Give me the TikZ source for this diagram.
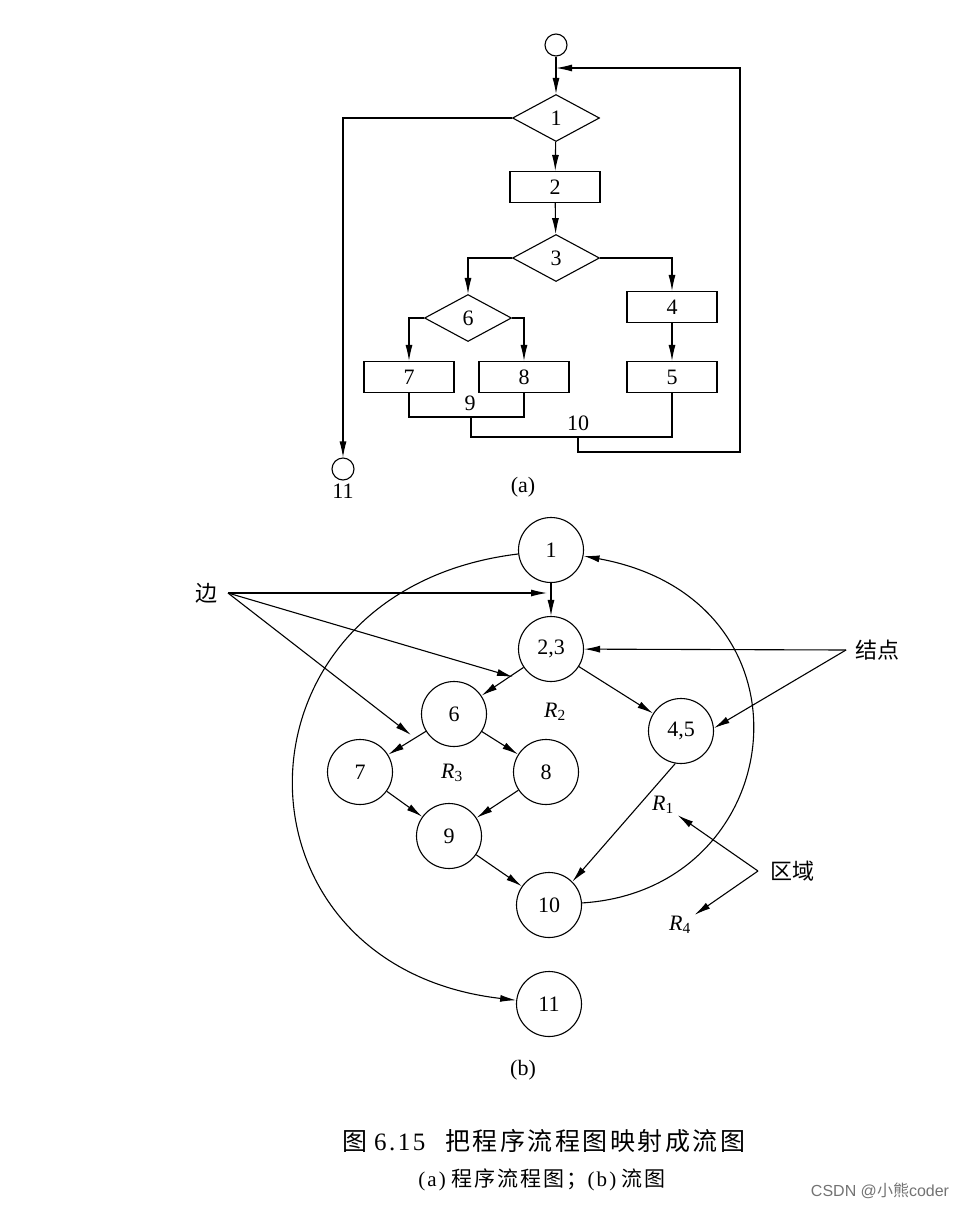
\documentclass[tikz,border=0pt]{standalone}
\usepackage{fontspec}
\setmainfont{Liberation Serif}
\newfontfamily\cjk{Noto Sans CJK SC}
\newfontfamily\capcjk[LetterSpace=10]{Noto Sans CJK SC}
\newfontfamily\caprm[LetterSpace=10]{Liberation Serif}
\newfontfamily\wmfont{Liberation Sans}
\usetikzlibrary{shapes.geometric,arrows.meta}

\begin{document}
\begin{tikzpicture}[x=1pt,y=-1pt,line width=1.1pt,>={Latex[length=16pt,width=7pt]},
    node distance=99pt,font=\fontsize{22}{26}\selectfont,
    box node/.style={rectangle,draw,minimum width=90pt,minimum height=31pt,inner sep=0pt},
    test node/.style={diamond,draw,minimum width=87pt,minimum height=47pt,inner sep=0pt},
    end node/.style={circle,draw,minimum size=22pt,inner sep=0pt},
    main node/.style={circle,draw,minimum size=65pt,inner sep=0pt},
    note/.style={font=\cjk\fontsize{22}{26}\selectfont,inner ysep=0pt}]
  \useasboundingbox (0,0) rectangle (963,1208);

  % (a) program flowchart
  \node[end node] (s) at (556,45) {};
  \node[test node] (f1) at (556,118) {1};
  \node[box node] (f2) at (555,187) {2};
  \node[test node] (f3) at (556,258) {3};
  \node[test node] (f6) at (468,318) {6};
  \node[box node] (f7) at (409,377) {7};
  \node[box node] (f8) at (524,377) {8};
  \node[box node] (f4) at (672,307) {4};
  \node[box node] (f5) at (672,377) {5};
  \node[end node,label=below:11] (f11) at (343,469) {};
  \coordinate (in1) at (556,68);
  \coordinate (j9) at (471,417);
  \coordinate (j10) at (578,437);
  \coordinate (back) at (740,452);
  \node (l9) at (470,403) {9};
  \node (l10) at (578,423) {10};
  \node (la) at (523,487) {(a)};

  \draw (s) -- (in1);
  \draw[->] (in1) -- (f1);
  \draw[->] (f1) -- (f2);
  \draw[->] (f2) -- (f3);
  \draw[->] (f3.west) -| (f6.north);
  \draw[->] (f3.east) -| (f4.north);
  \draw[->] (f6.west) -| (f7.north);
  \draw[->] (f6.east) -| (f8.north);
  \draw[->] (f4) -- (f5);
  \draw[->] (f1.west) -| (f11.north);
  \draw (f7.south) |- (j9) -| (f8.south);
  \draw (j9) |- (j10) -| (f5.south);
  \draw[->] (j10) |- (back) |- (in1);

  % (b) flow graph
  \node[main node] (1) at (551,550) {1};
  \node[main node] (23) [below of=1] {2,3};
  \node[main node] (6) at (454,714) {6};
  \node[main node] (45) at (681,731) {4,5};
  \node[main node] (7) at (360,772) {7};
  \node[main node] (8) at (546,772) {8};
  \node[main node] (9) at (449,836) {9};
  \node[main node] (10) at (549,905) {10};
  \node[main node] (11) [below of=10] {11};

  \path[->]
  (1) edge (23)
  (23) edge (6)
  edge (45)
  (6) edge (7)
  edge (8)
  (7) edge (9)
  (8) edge (9)
  (9) edge (10)
  (45.-100) edge (10.45);
  \draw[->] (1) .. controls (221,590) and (219,966) .. (11);
  \draw[->] (10) .. controls (790,890) and (825,600) .. (1);

  \node (r1) at (663,805) {\textit{R}\textsubscript{1}};
  \node (r2) at (555,712) {\textit{R}\textsubscript{2}};
  \node (r3) at (452,773) {\textit{R}\textsubscript{3}};
  \node (r4) at (680,925) {\textit{R}\textsubscript{4}};

  % labels with pointers
  \node[note,inner xsep=10pt,anchor=east] (bian) at (228,593) {边};
  \coordinate (e1) at (547,593);
  \coordinate (e2) at (513,677);
  \coordinate (e3) at (411,735);
  \draw[->] (bian.east) -- (e1);
  \draw[->] (bian.east) -- (e2);
  \draw[->] (bian.east) -- (e3);
  \node[note,inner xsep=9pt,anchor=west] (jd) at (846,650) {结点};
  \draw[->] (jd.west) -- (23);
  \draw[->] (jd.west) -- (45.5);
  \node[note,inner xsep=12pt,anchor=west] (qy) at (758,871) {区域};
  \draw[->] (qy.west) -- (r1);
  \draw[->] (qy.west) -- (r4);
  \node (lb) at (523,1070) {(b)};

  % caption
  \node[font=\fontsize{25}{30}\selectfont] (cap) at (544,1141)
    {{\capcjk 图} {\caprm 6.15}\hspace{20pt}{\capcjk 把程序流程图映射成流图}};
  \node[font=\fontsize{21}{24}\selectfont] (sub) at (542,1180)
    {{\caprm (a)} {\capcjk 程序流程图；}{\caprm (b)} {\capcjk 流图}};
  \node[text=black!55,font=\wmfont\fontsize{16}{18}\selectfont] (wm) at (880,1191)
    {CSDN @{\cjk 小熊}coder};
\end{tikzpicture}
\end{document}
